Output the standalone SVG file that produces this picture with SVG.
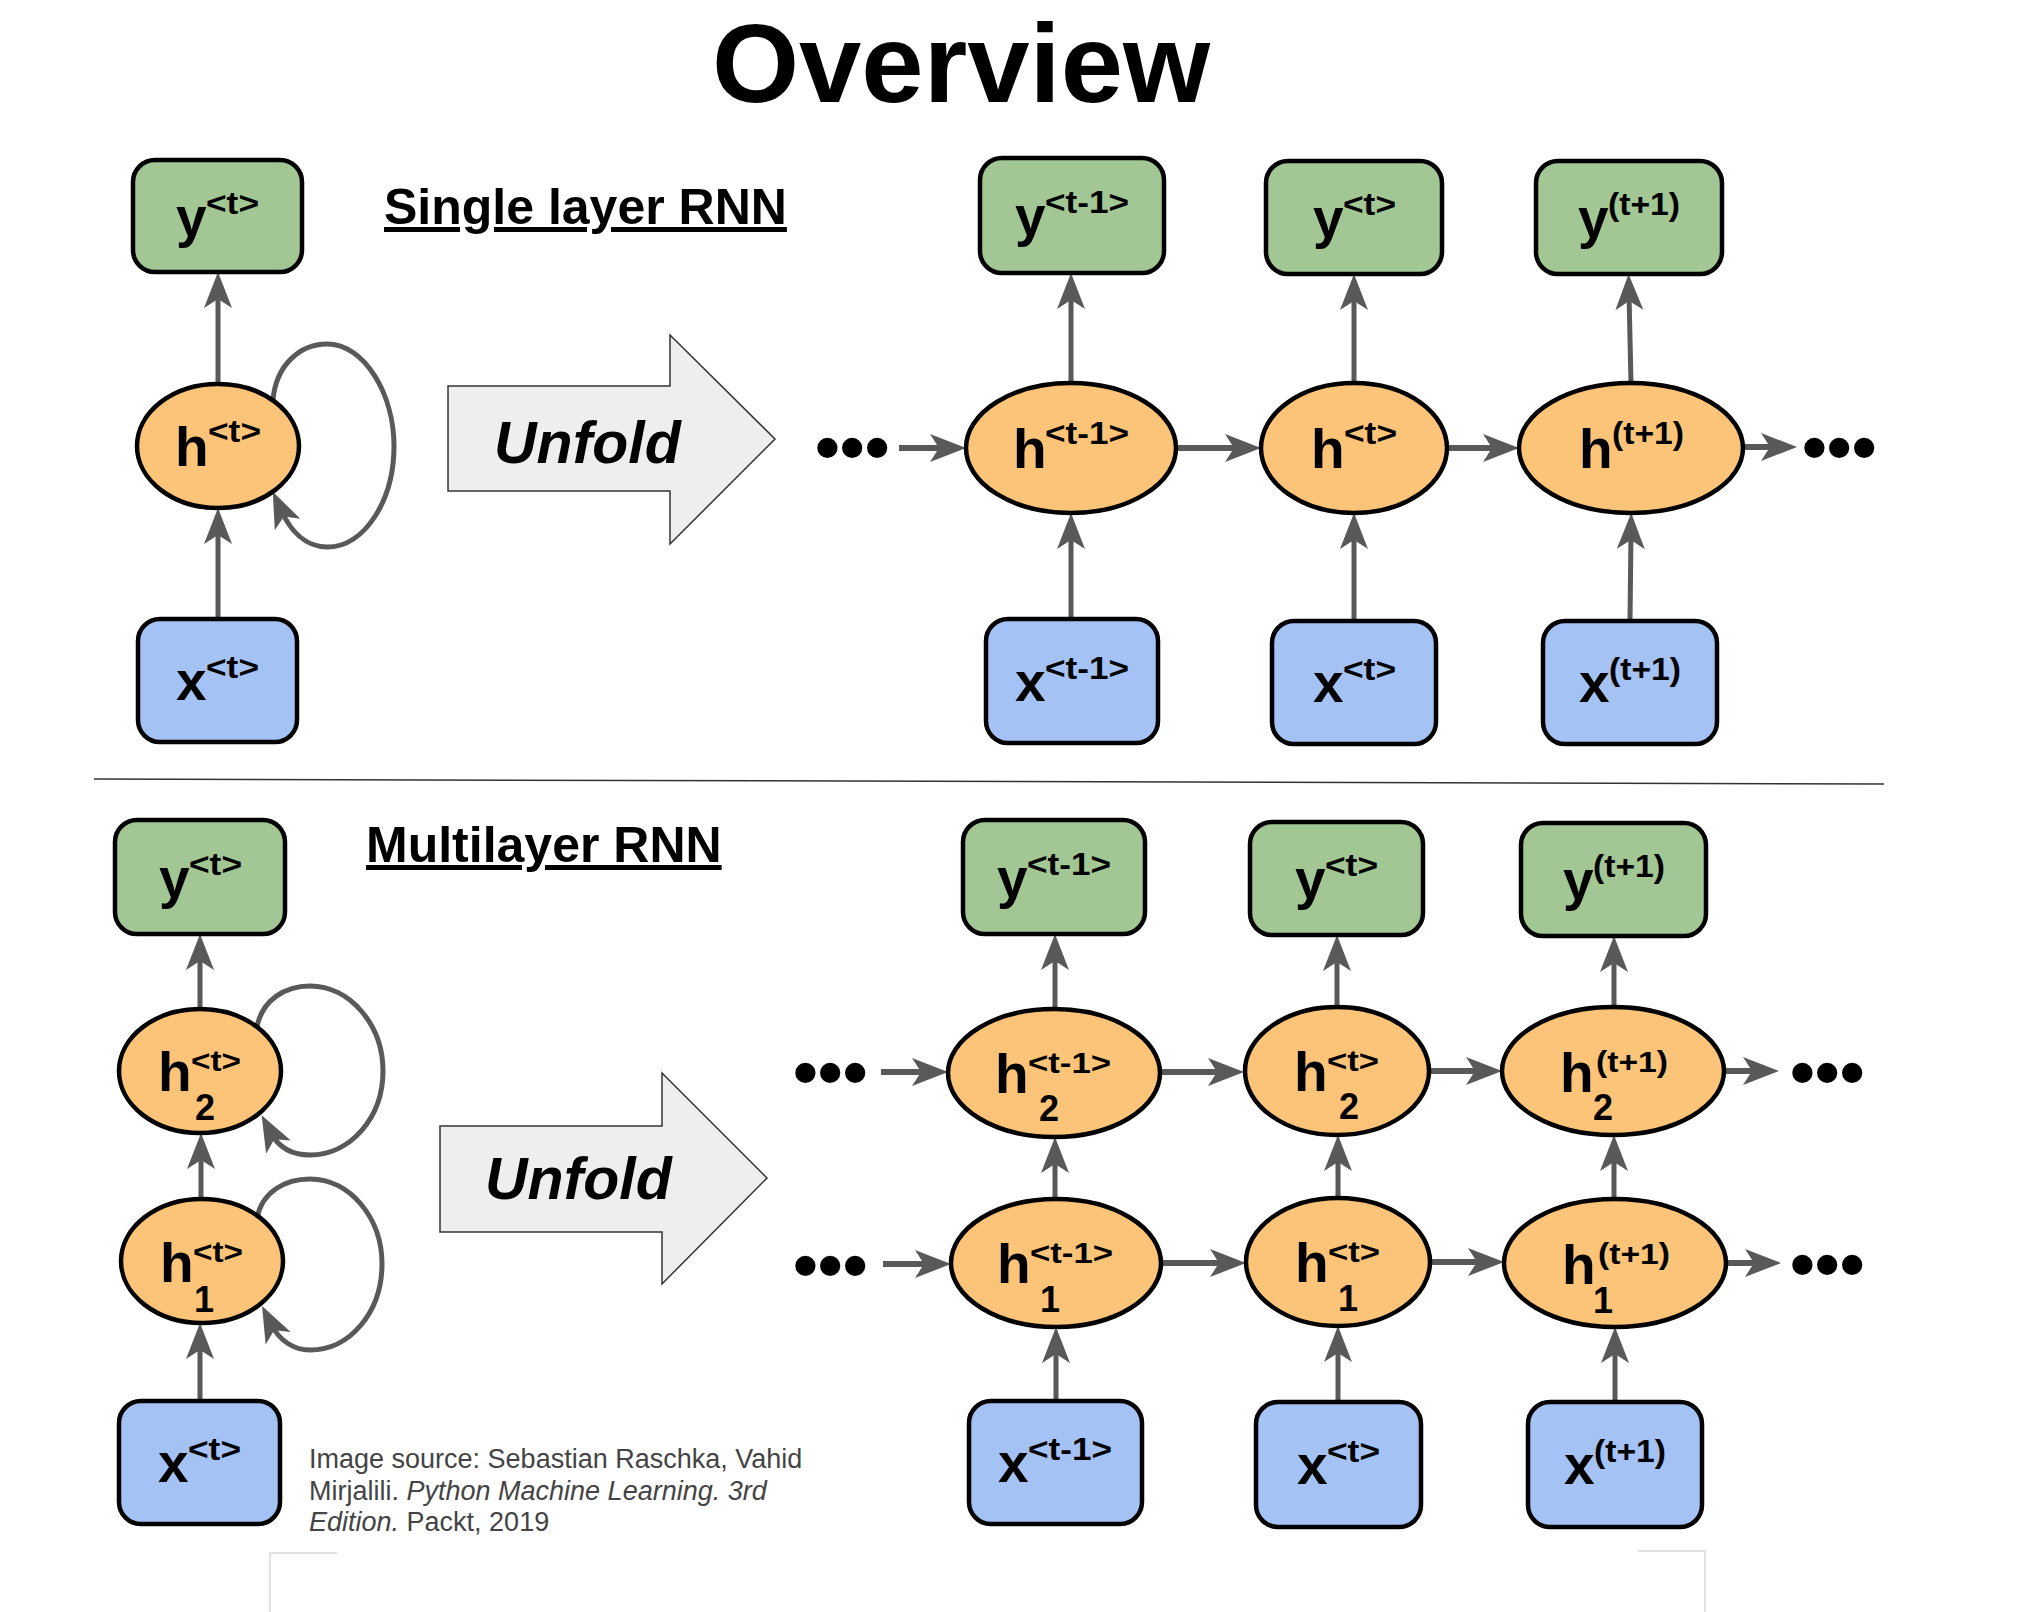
<svg xmlns="http://www.w3.org/2000/svg" width="2018" height="1612" viewBox="0 0 2018 1612">
<style>
.bg{fill:#ffffff}
.gbox{fill:#a2c694;stroke:#000;stroke-width:4.5}
.bbox{fill:#a4c2f4;stroke:#000;stroke-width:4.5}
.hnode{fill:#fcc478;stroke:#000;stroke-width:4.5}
.m{font-family:"Liberation Sans",Arial,sans-serif;font-weight:bold;font-size:55px;fill:#000}
.s{font-family:"Liberation Sans",Arial,sans-serif;font-weight:bold;font-size:31px;fill:#000}
.s2{font-family:"Liberation Sans",Arial,sans-serif;font-weight:bold;font-size:29px;fill:#000}
.sub{font-family:"Liberation Sans",Arial,sans-serif;font-weight:bold;font-size:36px;fill:#000}
.v{fill:none;stroke:#595959;stroke-width:5;marker-end:url(#ah)}
.hz{fill:none;stroke:#595959;stroke-width:6;marker-end:url(#ah)}
.loop{fill:none;stroke:#595959;stroke-width:5;marker-end:url(#ah)}
.dots{font-family:"Liberation Sans",Arial,sans-serif;font-weight:bold;font-size:71px;fill:#000}
.unf{fill:#eeeeee;stroke:#333;stroke-width:1.5}
.unft{font-family:"Liberation Sans",Arial,sans-serif;font-weight:bold;font-style:italic;font-size:59px;fill:#000}
.head{font-family:"Liberation Sans",Arial,sans-serif;font-weight:bold;font-size:50px;fill:#000;text-decoration:underline}
.cite{font-family:"Liberation Sans",Arial,sans-serif;font-size:27px;fill:#444}
</style>
<defs>
<marker id="ah" viewBox="-40 -16 42 32" refX="-20" refY="0" markerWidth="42" markerHeight="32" markerUnits="userSpaceOnUse" orient="auto">
<path d="M0,0 L-36,-14 L-27,0 L-36,14 Z" fill="#595959"/>
</marker>
</defs>
<rect class="bg" x="0" y="0" width="2018" height="1612"/>

<text x="961" y="102" text-anchor="middle" font-family="Liberation Sans, Arial, sans-serif" font-weight="bold" font-size="112">Overview</text>
<text class="head" x="384" y="224">Single layer RNN</text>
<text class="head" x="366" y="862">Multilayer RNN</text>

<line x1="94" y1="779" x2="1884" y2="784" stroke="#333" stroke-width="1.5"/>

<g id="unfold1">
<polygon class="unf" points="448,386 670,386 670,335 775,439 670,544 670,491 448,491"/>
<text class="unft" x="494" y="463">Unfold</text>
</g>
<g id="unfold2">
<polygon class="unf" points="440,1126 662,1126 662,1073 767,1178 662,1284 662,1232 440,1232"/>
<text class="unft" x="485" y="1199">Unfold</text>
</g>

<g id="connectors">
<line class="v" x1="218" y1="384" x2="218" y2="292"/>
<line class="v" x1="218" y1="619" x2="218" y2="528"/>
<path class="loop" d="M273,400 C276,365 300,344 327,344 C365,344 394,395 394,446 C394,500 365,547 327,547 C305,547 290,530 281,510"/>
<line class="hz" x1="899" y1="448" x2="946" y2="448"/>
<line class="hz" x1="1177" y1="448" x2="1241" y2="448"/>
<line class="hz" x1="1447" y1="448" x2="1499" y2="448"/>
<line class="hz" x1="1743" y1="447" x2="1777" y2="447"/>
<line class="v" x1="1071" y1="383" x2="1071" y2="293"/>
<line class="v" x1="1071" y1="619" x2="1071" y2="533"/>
<line class="v" x1="1354" y1="383" x2="1354" y2="294"/>
<line class="v" x1="1354" y1="621" x2="1354" y2="533"/>
<line class="v" x1="1631" y1="383" x2="1629" y2="294"/>
<line class="v" x1="1630" y1="621" x2="1631" y2="533"/>
<line class="v" x1="200" y1="1009" x2="200" y2="954"/>
<line class="v" x1="201" y1="1199" x2="201" y2="1153"/>
<line class="v" x1="200" y1="1401" x2="200" y2="1343"/>
<path class="loop" d="M257,1027 C262,1000 285,986 310,986 C350,986 383,1025 383,1071 C383,1118 350,1155 310,1155 C295,1155 280,1150 271,1133"/>
<path class="loop" d="M257,1218 C262,1192 285,1179 310,1179 C350,1179 382,1218 382,1264 C382,1312 350,1350 310,1350 C295,1350 280,1342 271,1324"/>
<line class="hz" x1="881" y1="1072" x2="928" y2="1072"/>
<line class="hz" x1="1160" y1="1072" x2="1224" y2="1072"/>
<line class="hz" x1="1429" y1="1071" x2="1482" y2="1071"/>
<line class="hz" x1="1724" y1="1071" x2="1759" y2="1071"/>
<line class="hz" x1="883" y1="1264" x2="931" y2="1264"/>
<line class="hz" x1="1161" y1="1263" x2="1226" y2="1263"/>
<line class="hz" x1="1430" y1="1262" x2="1484" y2="1262"/>
<line class="hz" x1="1726" y1="1263" x2="1761" y2="1263"/>
<line class="v" x1="1055" y1="1009" x2="1055" y2="954"/>
<line class="v" x1="1055" y1="1199" x2="1055" y2="1157"/>
<line class="v" x1="1056" y1="1401" x2="1056" y2="1347"/>
<line class="v" x1="1337" y1="1007" x2="1337" y2="955"/>
<line class="v" x1="1338" y1="1198" x2="1338" y2="1155"/>
<line class="v" x1="1338" y1="1402" x2="1338" y2="1346"/>
<line class="v" x1="1614" y1="1007" x2="1614" y2="956"/>
<line class="v" x1="1614" y1="1199" x2="1614" y2="1155"/>
<line class="v" x1="1615" y1="1402" x2="1615" y2="1347"/>
</g>

<g id="dots">
<text class="dots" x="815" y="471">•••</text>
<text class="dots" x="1802" y="471">•••</text>
<text class="dots" x="793" y="1096">•••</text>
<text class="dots" x="793" y="1289">•••</text>
<text class="dots" x="1790" y="1096">•••</text>
<text class="dots" x="1790" y="1288">•••</text>
</g>

<g id="y_single">
<rect class="gbox" x="133" y="160" width="169" height="112" rx="22"/>
<text class="m" x="176" y="236">y</text><text class="s" x="206" y="214" textLength="53" lengthAdjust="spacingAndGlyphs">&lt;t&gt;</text>
</g>
<g id="h_single">
<ellipse class="hnode" cx="218" cy="446" rx="81" ry="62"/>
<text class="m" x="175" y="466">h</text><text class="s" x="208" y="442" textLength="53" lengthAdjust="spacingAndGlyphs">&lt;t&gt;</text>
</g>
<g id="x_single">
<rect class="bbox" x="138" y="619" width="159" height="123" rx="22"/>
<text class="m" x="176" y="700">x</text><text class="s" x="206" y="678" textLength="53" lengthAdjust="spacingAndGlyphs">&lt;t&gt;</text>
</g>

<g id="y_tm1">
<rect class="gbox" x="980" y="158" width="184" height="115" rx="22"/>
<text class="m" x="1015" y="235">y</text><text class="s" x="1045" y="213" textLength="84" lengthAdjust="spacingAndGlyphs">&lt;t-1&gt;</text>
</g>
<g id="y_t">
<rect class="gbox" x="1266" y="161" width="176" height="113" rx="22"/>
<text class="m" x="1313" y="237">y</text><text class="s" x="1343" y="215" textLength="53" lengthAdjust="spacingAndGlyphs">&lt;t&gt;</text>
</g>
<g id="y_tp1">
<rect class="gbox" x="1536" y="161" width="186" height="113" rx="22"/>
<text class="m" x="1578" y="237">y</text><text class="s" x="1608" y="215" textLength="72" lengthAdjust="spacingAndGlyphs">(t+1)</text>
</g>
<g id="h_tm1">
<ellipse class="hnode" cx="1071" cy="448" rx="105" ry="65"/>
<text class="m" x="1013" y="468">h</text><text class="s" x="1045" y="444" textLength="84" lengthAdjust="spacingAndGlyphs">&lt;t-1&gt;</text>
</g>
<g id="h_t">
<ellipse class="hnode" cx="1354" cy="448" rx="93" ry="65"/>
<text class="m" x="1311" y="468">h</text><text class="s" x="1344" y="444" textLength="53" lengthAdjust="spacingAndGlyphs">&lt;t&gt;</text>
</g>
<g id="h_tp1">
<ellipse class="hnode" cx="1631" cy="448" rx="112" ry="65"/>
<text class="m" x="1579" y="468">h</text><text class="s" x="1612" y="444" textLength="72" lengthAdjust="spacingAndGlyphs">(t+1)</text>
</g>
<g id="x_tm1">
<rect class="bbox" x="986" y="619" width="172" height="124" rx="22"/>
<text class="m" x="1015" y="701">x</text><text class="s" x="1045" y="679" textLength="84" lengthAdjust="spacingAndGlyphs">&lt;t-1&gt;</text>
</g>
<g id="x_t">
<rect class="bbox" x="1272" y="621" width="164" height="123" rx="22"/>
<text class="m" x="1313" y="702">x</text><text class="s" x="1343" y="680" textLength="53" lengthAdjust="spacingAndGlyphs">&lt;t&gt;</text>
</g>
<g id="x_tp1">
<rect class="bbox" x="1543" y="621" width="174" height="123" rx="22"/>
<text class="m" x="1579" y="702">x</text><text class="s" x="1609" y="680" textLength="72" lengthAdjust="spacingAndGlyphs">(t+1)</text>
</g>

<g id="y_multi">
<rect class="gbox" x="115" y="820" width="170" height="114" rx="22"/>
<text class="m" x="159" y="897">y</text><text class="s" x="189" y="875" textLength="53" lengthAdjust="spacingAndGlyphs">&lt;t&gt;</text>
</g>
<g id="h2_multi">
<ellipse class="hnode" cx="200" cy="1071" rx="81" ry="62"/>
<text class="m" x="158" y="1091">h</text><text class="s2" x="191" y="1071" textLength="50" lengthAdjust="spacingAndGlyphs">&lt;t&gt;</text><text class="sub" x="195" y="1120">2</text>
</g>
<g id="h1_multi">
<ellipse class="hnode" cx="202" cy="1261" rx="81" ry="62"/>
<text class="m" x="160" y="1282">h</text><text class="s2" x="193" y="1262" textLength="50" lengthAdjust="spacingAndGlyphs">&lt;t&gt;</text><text class="sub" x="194" y="1312">1</text>
</g>
<g id="x_multi">
<rect class="bbox" x="119" y="1401" width="161" height="123" rx="22"/>
<text class="m" x="158" y="1482">x</text><text class="s" x="188" y="1460" textLength="53" lengthAdjust="spacingAndGlyphs">&lt;t&gt;</text>
</g>

<g id="y2_tm1">
<rect class="gbox" x="963" y="820" width="182" height="114" rx="22"/>
<text class="m" x="997" y="897">y</text><text class="s" x="1027" y="875" textLength="84" lengthAdjust="spacingAndGlyphs">&lt;t-1&gt;</text>
</g>
<g id="y2_t">
<rect class="gbox" x="1250" y="822" width="173" height="113" rx="22"/>
<text class="m" x="1295" y="898">y</text><text class="s" x="1325" y="876" textLength="53" lengthAdjust="spacingAndGlyphs">&lt;t&gt;</text>
</g>
<g id="y2_tp1">
<rect class="gbox" x="1521" y="823" width="185" height="113" rx="22"/>
<text class="m" x="1563" y="899">y</text><text class="s" x="1593" y="877" textLength="72" lengthAdjust="spacingAndGlyphs">(t+1)</text>
</g>
<g id="h2_tm1">
<ellipse class="hnode" cx="1054" cy="1073" rx="106" ry="64"/>
<text class="m" x="995" y="1093">h</text><text class="s2" x="1028" y="1073" textLength="83" lengthAdjust="spacingAndGlyphs">&lt;t-1&gt;</text><text class="sub" x="1039" y="1121">2</text>
</g>
<g id="h2_t">
<ellipse class="hnode" cx="1337" cy="1071" rx="92" ry="64"/>
<text class="m" x="1294" y="1091">h</text><text class="s2" x="1327" y="1071" textLength="52" lengthAdjust="spacingAndGlyphs">&lt;t&gt;</text><text class="sub" x="1339" y="1119">2</text>
</g>
<g id="h2_tp1">
<ellipse class="hnode" cx="1613" cy="1071" rx="111" ry="64"/>
<text class="m" x="1560" y="1092">h</text><text class="s2" x="1596" y="1072" textLength="72" lengthAdjust="spacingAndGlyphs">(t+1)</text><text class="sub" x="1593" y="1120">2</text>
</g>
<g id="h1_tm1">
<ellipse class="hnode" cx="1056" cy="1263" rx="105" ry="64"/>
<text class="m" x="997" y="1283">h</text><text class="s2" x="1030" y="1263" textLength="83" lengthAdjust="spacingAndGlyphs">&lt;t-1&gt;</text><text class="sub" x="1040" y="1312">1</text>
</g>
<g id="h1_t">
<ellipse class="hnode" cx="1338" cy="1262" rx="92" ry="64"/>
<text class="m" x="1295" y="1282">h</text><text class="s2" x="1328" y="1262" textLength="52" lengthAdjust="spacingAndGlyphs">&lt;t&gt;</text><text class="sub" x="1338" y="1311">1</text>
</g>
<g id="h1_tp1">
<ellipse class="hnode" cx="1615" cy="1263" rx="111" ry="64"/>
<text class="m" x="1562" y="1284">h</text><text class="s2" x="1598" y="1264" textLength="72" lengthAdjust="spacingAndGlyphs">(t+1)</text><text class="sub" x="1593" y="1313">1</text>
</g>
<g id="x2_tm1">
<rect class="bbox" x="969" y="1401" width="173" height="123" rx="22"/>
<text class="m" x="998" y="1482">x</text><text class="s" x="1028" y="1460" textLength="84" lengthAdjust="spacingAndGlyphs">&lt;t-1&gt;</text>
</g>
<g id="x2_t">
<rect class="bbox" x="1256" y="1402" width="165" height="125" rx="22"/>
<text class="m" x="1297" y="1484">x</text><text class="s" x="1327" y="1462" textLength="53" lengthAdjust="spacingAndGlyphs">&lt;t&gt;</text>
</g>
<g id="x2_tp1">
<rect class="bbox" x="1528" y="1402" width="174" height="125" rx="22"/>
<text class="m" x="1564" y="1484">x</text><text class="s" x="1594" y="1462" textLength="72" lengthAdjust="spacingAndGlyphs">(t+1)</text>
</g>

<g id="citation">
<text class="cite" x="309" y="1468">Image source: Sebastian Raschka, Vahid</text>
<text class="cite" x="309" y="1500">Mirjalili. <tspan font-style="italic">Python Machine Learning. 3rd</tspan></text>
<text class="cite" x="309" y="1531"><tspan font-style="italic">Edition.</tspan> Packt, 2019</text>
</g>

<g id="frame" fill="none" stroke="#e2e2e2" stroke-width="2">
<path d="M337,1553 L270,1553 L270,1612"/>
<path d="M1638,1551 L1705,1551 L1705,1612"/>
</g>
</svg>
